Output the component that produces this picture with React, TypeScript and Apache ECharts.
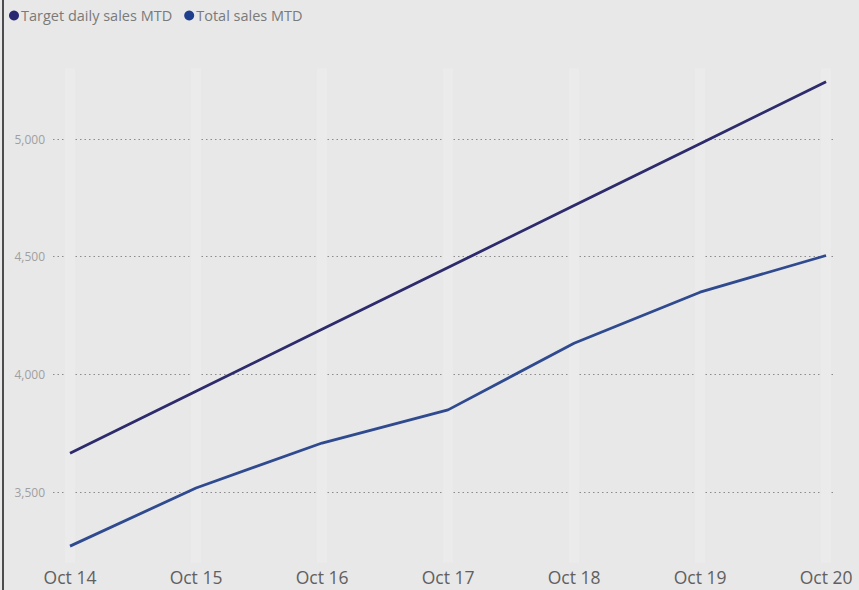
import React, { useEffect, useRef } from "react";
import * as echarts from "echarts";

const categories = ["Oct 14", "Oct 15", "Oct 16", "Oct 17", "Oct 18", "Oct 19", "Oct 20"];
const targetDailySalesMTD = [3665, 3928, 4192, 4454, 4717, 4980, 5243];
const totalSalesMTD = [3270, 3517, 3708, 3849, 4132, 4349, 4505];
const seriesNames = ["Target daily sales MTD", "Total sales MTD"];

const FONT = "'Segoe UI', 'Open Sans', sans-serif";

export default function App() {
  const ref = useRef<HTMLDivElement>(null);
  useEffect(() => {
    if (!ref.current) return;
    const chart = echarts.init(ref.current, null, { renderer: "svg" });
    const toPairs = (arr: number[]) => arr.map((v, i) => [i, v]);
    chart.setOption({
      animation: false,
      backgroundColor: "#e8e8e8",
      textStyle: { fontFamily: FONT },
      graphic: [
        { type: "rect", left: 2, top: 0, shape: { width: 2, height: 590 }, style: { fill: "#4d4d4d" } },
      ],
      legend: {
        left: 9,
        top: 8,
        padding: 0,
        itemWidth: 10,
        itemHeight: 10,
        itemGap: 12,
        icon: "circle",
        textStyle: { color: "#7a7a7a", fontSize: 14.5, fontFamily: FONT, padding: [0, 0, 0, -3] },
        data: seriesNames,
      },
      grid: { left: 53, right: 25, top: 68.4, bottom: 27.4, containLabel: false },
      xAxis: {
        type: "value",
        min: -0.135,
        max: 6.063,
        axisLine: { show: false },
        axisTick: { show: false },
        axisLabel: {
          showMinLabel: false,
          showMaxLabel: false,
          color: "#606060",
          fontSize: 17.5,
          fontFamily: FONT,
          margin: 5,
          formatter: (v: number) => {
            const i = Math.round(v);
            return Math.abs(v - i) < 1e-6 && categories[i] ? categories[i] : "";
          },
        },
        splitLine: {
          show: true,
          showMinLine: false,
          showMaxLine: false,
          lineStyle: { color: "#ebebeb", width: 10 },
        },
      },
      yAxis: {
        type: "value",
        min: 3200,
        max: 5300,
        axisLine: { show: false },
        axisTick: { show: false },
        axisLabel: {
          showMinLabel: false,
          showMaxLabel: false,
          color: "#a0a0a0",
          fontSize: 12,
          fontFamily: FONT,
          margin: 8,
          formatter: (v: number) => v.toLocaleString("en-US"),
        },
        splitLine: {
          show: true,
          showMinLine: false,
          showMaxLine: false,
          lineStyle: { color: "#8c8c8c", type: [1.5, 3], width: 1 },
        },
      },
      series: [
        {
          name: seriesNames[0],
          type: "line",
          data: toPairs(targetDailySalesMTD),
          showSymbol: false,
          symbol: "circle",
          itemStyle: { color: "#2b2873" },
          lineStyle: { color: "#2d2b6c", width: 2.8 },
        },
        {
          name: seriesNames[1],
          type: "line",
          data: toPairs(totalSalesMTD),
          showSymbol: false,
          symbol: "circle",
          itemStyle: { color: "#1f3f8c" },
          lineStyle: { color: "#2f4a8f", width: 2.8 },
        },
      ],
    });
    return () => chart.dispose();
  }, []);
  return (
    <div
      ref={ref}
      style={{ position: "fixed", left: 0, top: 0, width: 859, height: 590 }}
    />
  );
}
